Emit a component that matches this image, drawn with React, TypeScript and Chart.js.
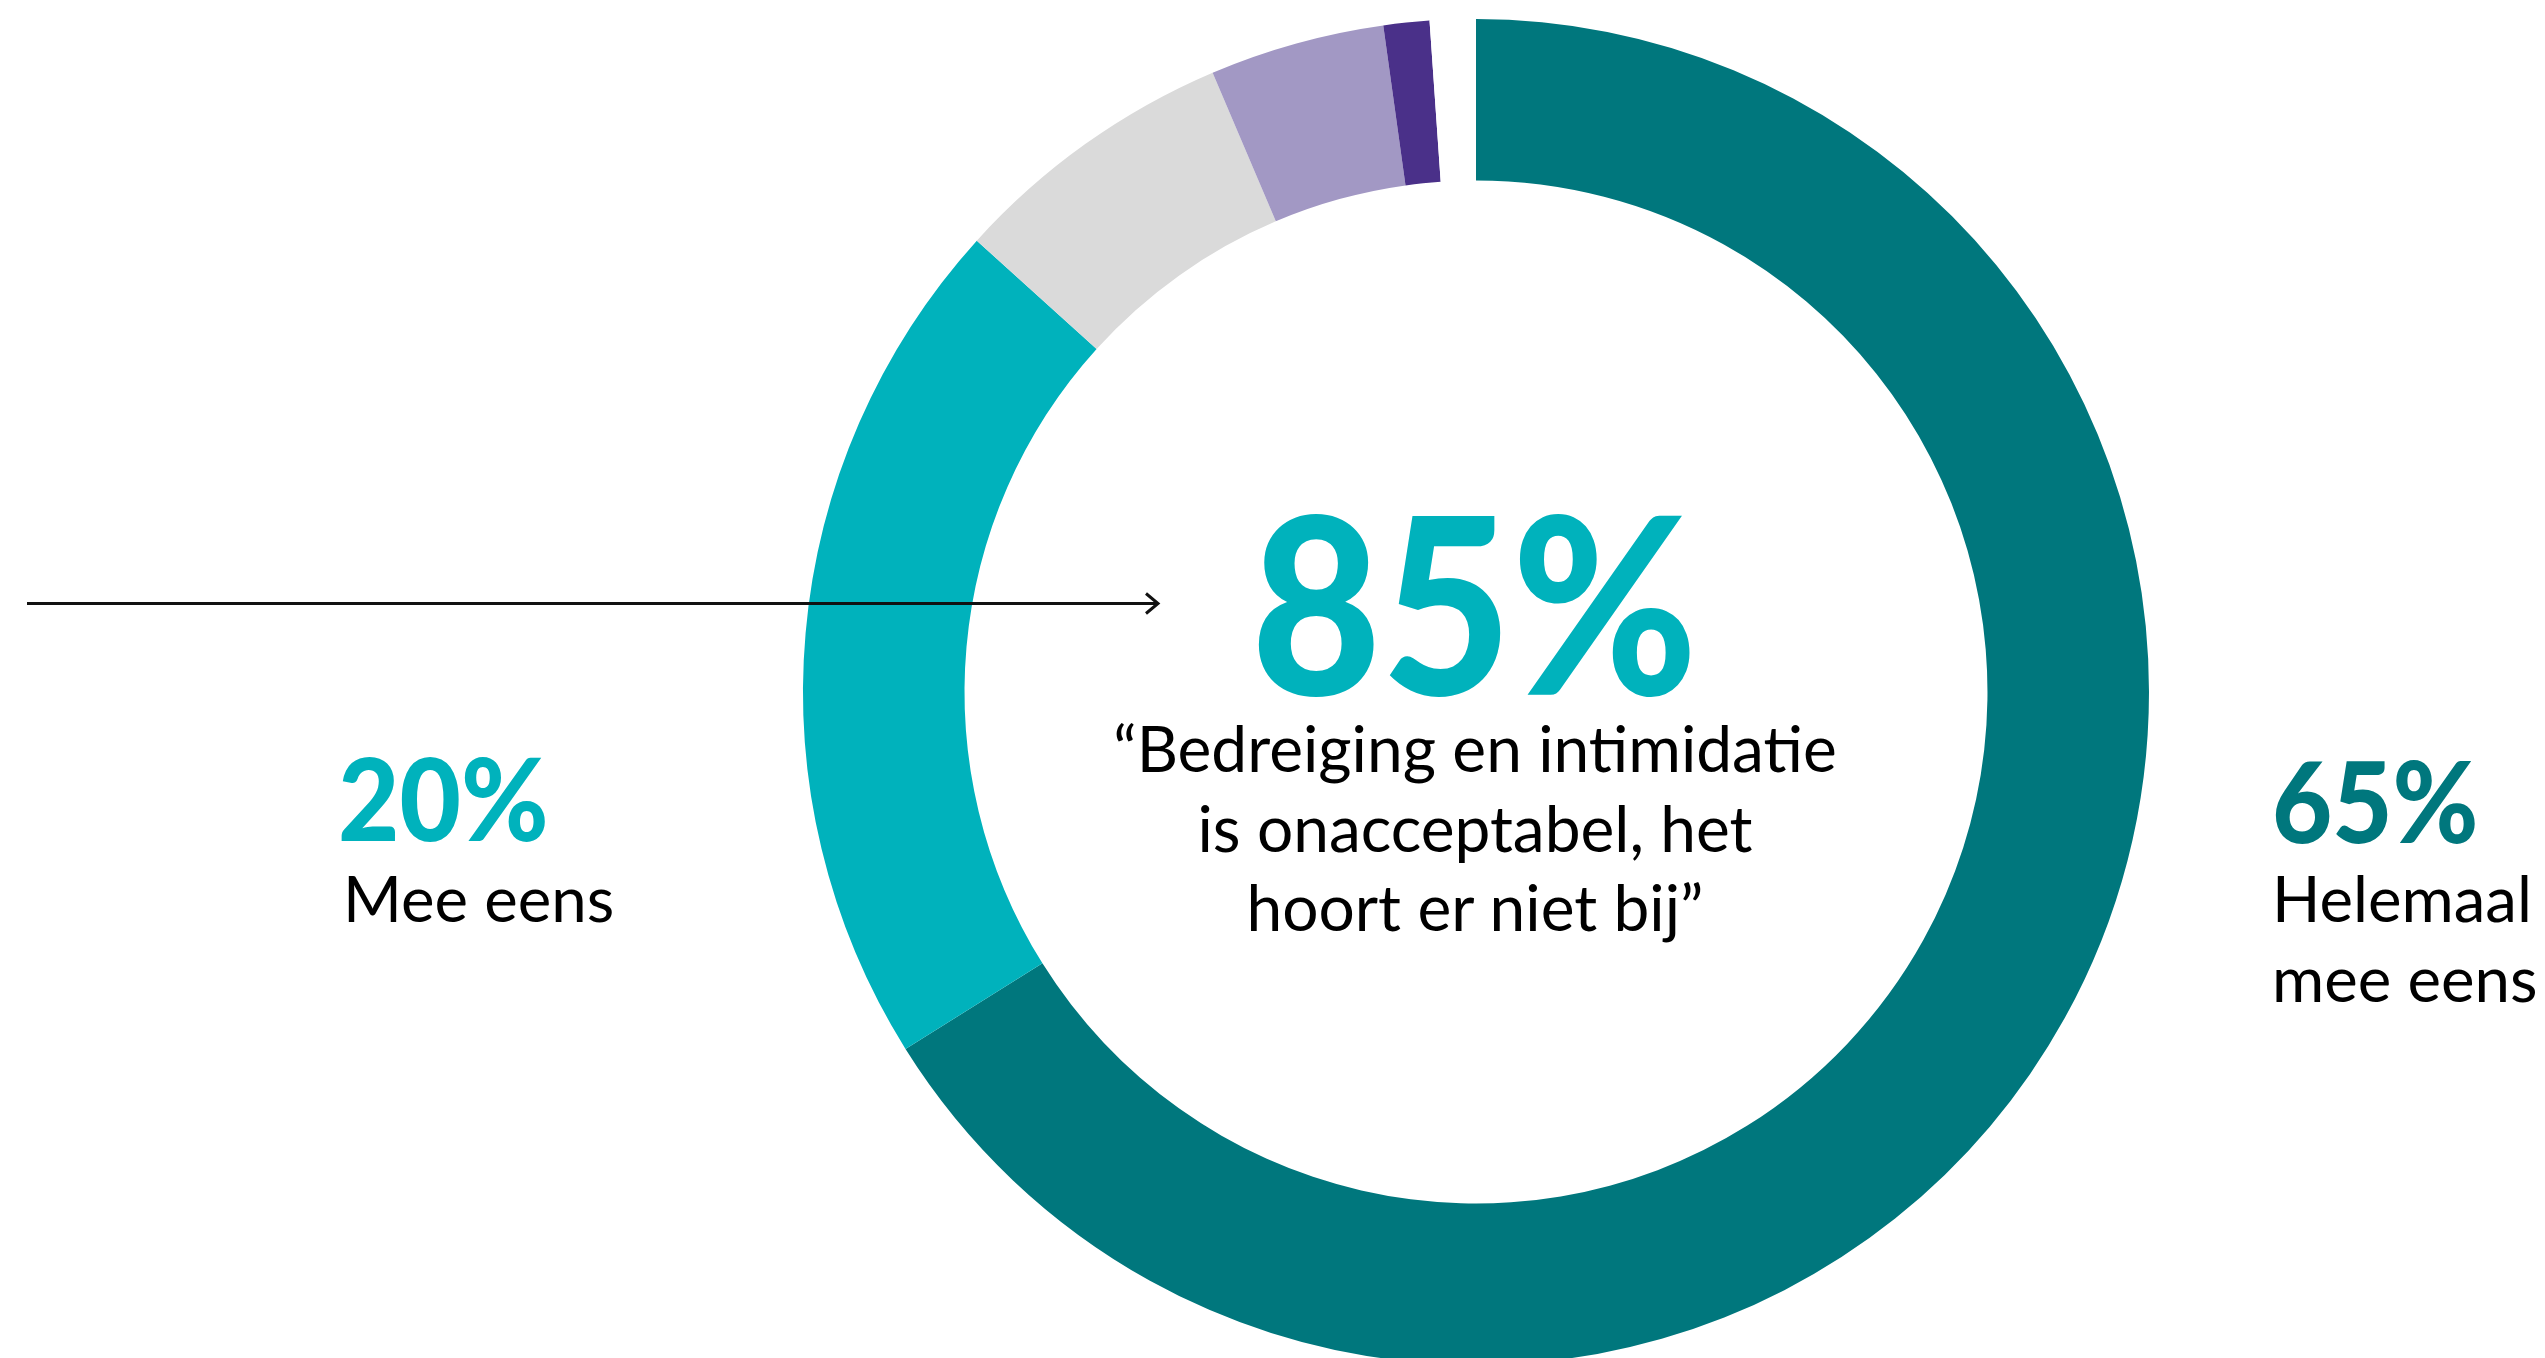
import React, { useEffect, useRef } from 'react';
import { Chart, registerables } from 'chart.js';

Chart.register(...registerables);

// answers, clockwise from the top
const categories = ['Helemaal mee eens', 'Mee eens', 'Neutraal', 'Oneens', 'Helemaal oneens', 'Weet niet'];
const shares = [66.1, 20.6, 6.9, 4.2, 1.1, 1.1];
const colors = ['#00777D', '#00B2BC', '#DADADA', '#A298C4', '#4A3089', '#FFFFFF'];

const headline = '85%';
const quoteLines = ['\u201CBedreiging en intimidatie', 'is onacceptabel, het', 'hoort er niet bij\u201D'];
const leftValue = '20%';
const leftLabel = ['Mee eens'];
const rightValue = '65%';
const rightLabel = ['Helemaal', 'mee eens'];

const FONT = 'Lato, "Noto Sans", sans-serif';

// arrow pointing at the headline
const arrowPlugin = {
  id: 'arrow',
  afterDraw(chart: Chart) {
    const ctx = chart.ctx;
    const y = 603.5;
    const x0 = 27;
    const x1 = 1158;
    ctx.save();
    ctx.strokeStyle = '#111111';
    ctx.lineWidth = 3;
    ctx.beginPath();
    ctx.moveTo(x0, y);
    ctx.lineTo(x1, y);
    ctx.stroke();
    ctx.lineJoin = 'miter';
    ctx.beginPath();
    ctx.moveTo(x1 - 12, y - 10);
    ctx.lineTo(x1, y);
    ctx.lineTo(x1 - 12, y + 10);
    ctx.stroke();
    ctx.restore();
  },
};

const DonutChart: React.FC = () => {
  const canvasRef = useRef<HTMLCanvasElement>(null);
  const chartRef = useRef<Chart | null>(null);

  useEffect(() => {
    if (!canvasRef.current) return;
    if (chartRef.current) chartRef.current.destroy();

    chartRef.current = new Chart(canvasRef.current, {
      type: 'doughnut',
      data: {
        labels: categories,
        datasets: [
          {
            data: shares,
            backgroundColor: colors,
            borderWidth: 0,
            hoverBorderWidth: 0,
            hoverOffset: 0,
          },
        ],
      },
      options: {
        animation: false,
        responsive: false,
        devicePixelRatio: 1,
        cutout: '76%',
        layout: { padding: { left: 803, right: 396, top: 19, bottom: 35 } },
        events: [],
        plugins: {
          legend: { display: false },
          tooltip: { enabled: false },
        },
      },
      plugins: [arrowPlugin],
    });

    return () => {
      if (chartRef.current) {
        chartRef.current.destroy();
        chartRef.current = null;
      }
    };
  }, []);

  return <canvas ref={canvasRef} width={2545} height={1400} style={{ position: 'absolute', left: 0, top: 0 }} />;
};

const textBase: React.CSSProperties = {
  position: 'absolute',
  fontFamily: FONT,
  whiteSpace: 'nowrap',
  margin: 0,
};

export default function App() {
  return (
    <div style={{ position: 'fixed', inset: 0, overflow: 'hidden', background: '#ffffff' }}>
      <DonutChart />

      <div
        style={{
          ...textBase,
          left: 1251,
          top: 452,
          fontSize: 247,
          lineHeight: 1.2,
          fontWeight: 900,
          color: '#00B2BC',
          transform: 'scaleX(0.91)',
          transformOrigin: 'left top',
        }}
      >
        {headline}
      </div>

      <div
        style={{
          ...textBase,
          left: 975,
          width: 1000,
          top: 708,
          fontSize: 64,
          lineHeight: '79.5px',
          textAlign: 'center',
          color: '#000000',
        }}
      >
        {quoteLines.map((l, i) => (
          <div key={i}>{l}</div>
        ))}
      </div>

      <div
        style={{
          ...textBase,
          left: 338,
          top: 729,
          fontSize: 114,
          lineHeight: 1.2,
          fontWeight: 900,
          color: '#00B2BC',
          transform: 'scaleX(0.93)',
          transformOrigin: 'left top',
        }}
      >
        {leftValue}
      </div>
      <div style={{ ...textBase, left: 343, top: 858.3, fontSize: 63.5, lineHeight: '80px', color: '#000000' }}>
        {leftLabel.map((l, i) => (
          <div key={i}>{l}</div>
        ))}
      </div>

      <div
        style={{
          ...textBase,
          left: 2272,
          top: 731.5,
          fontSize: 113,
          lineHeight: 1.2,
          fontWeight: 900,
          color: '#00777D',
          transform: 'scaleX(0.92)',
          transformOrigin: 'left top',
        }}
      >
        {rightValue}
      </div>
      <div style={{ ...textBase, left: 2272, top: 858.3, fontSize: 63.5, lineHeight: '80px', color: '#000000' }}>
        {rightLabel.map((l, i) => (
          <div key={i}>{l}</div>
        ))}
      </div>
    </div>
  );
}
